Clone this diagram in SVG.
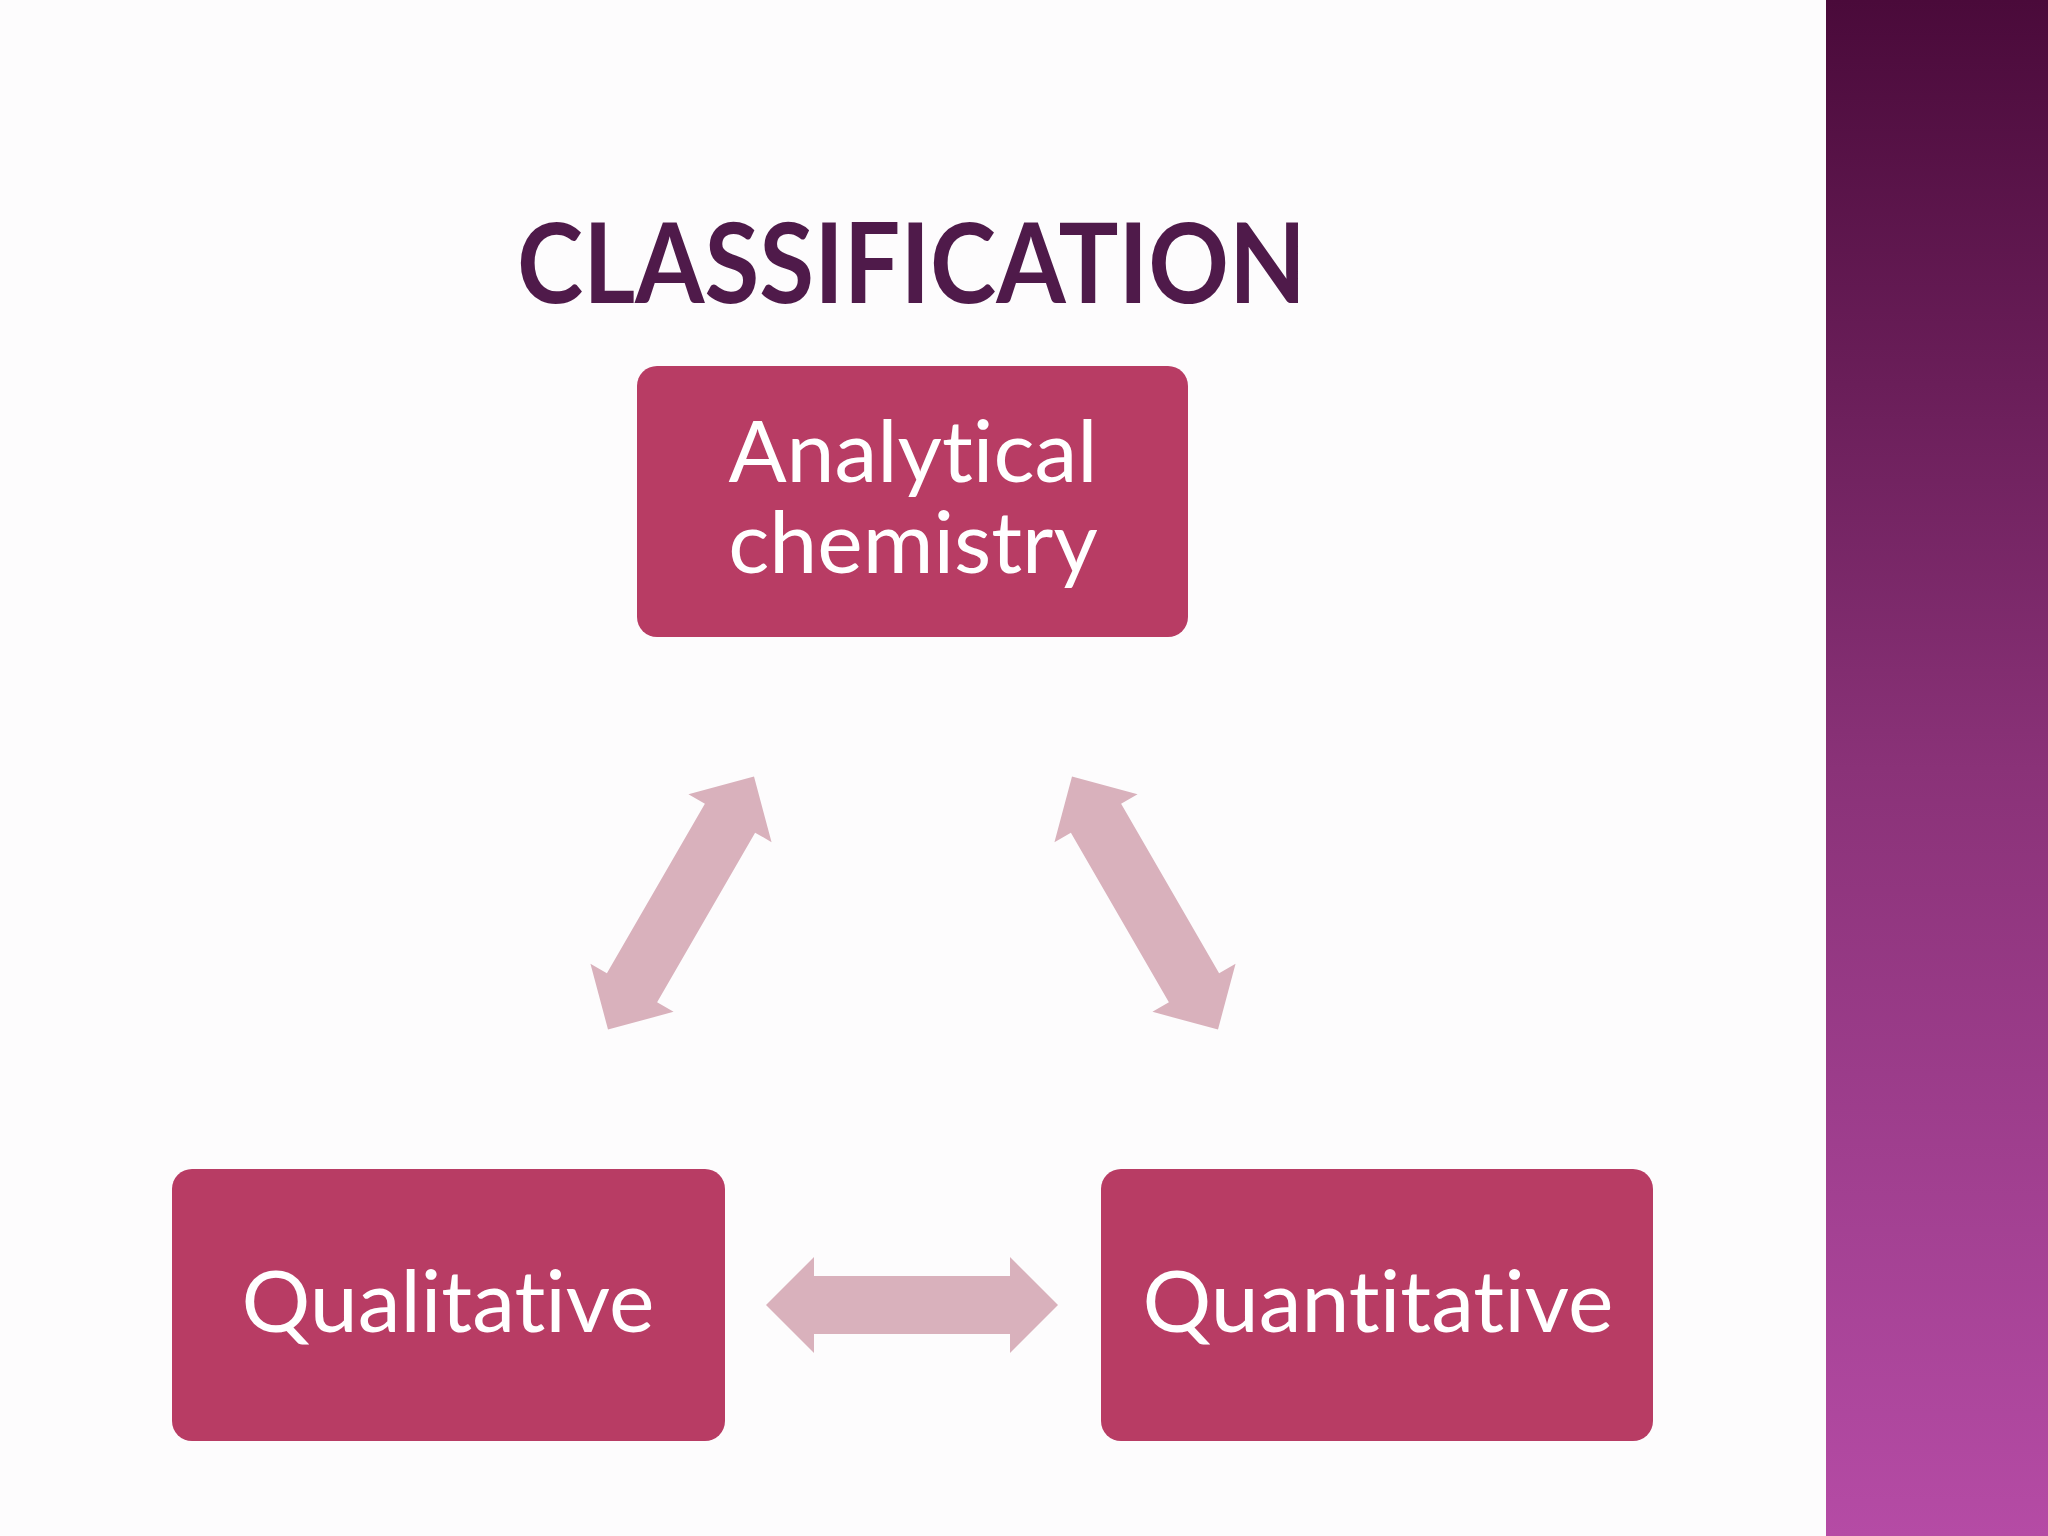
<svg xmlns="http://www.w3.org/2000/svg" xmlns:xlink="http://www.w3.org/1999/xlink" width="2048" height="1536" viewBox="0 0 2048 1536">
<style>
.box{fill:#b83c64}
.lbl{fill:#fff;font-family:Lato,"Open Sans",sans-serif;font-size:86px;text-anchor:middle;font-variant-ligatures:none}
.arr{fill:#d9b1bc}
</style>
<defs>
<linearGradient id="bar" x1="0" y1="0" x2="0" y2="1">
<stop offset="0" stop-color="#4a0a3a"/>
<stop offset="0.5" stop-color="#8a3278"/>
<stop offset="1" stop-color="#b54ba5"/>
</linearGradient>
<polygon id="dbl" class="arr" points="-146,0 -98,-48 -98,-29 98,-29 98,-48 146,0 98,48 98,29 -98,29 -98,48"/>
</defs>
<rect width="2048" height="1536" fill="#fdfcfd"/>
<rect x="1826" y="0" width="222" height="1536" fill="url(#bar)"/>
<text x="517" y="303" font-family="Lato,'Open Sans',sans-serif" font-weight="bold" font-size="112" fill="#4f1a4a" textLength="789" lengthAdjust="spacingAndGlyphs">CLASSIFICATION</text>
<g id="connectors">
<use xlink:href="#dbl" transform="translate(912,1305)"/>
<use xlink:href="#dbl" transform="translate(681,903) rotate(-60)"/>
<use xlink:href="#dbl" transform="translate(1145,903) rotate(60)"/>
</g>
<g id="analytical">
<rect class="box" x="637" y="366" width="551" height="271" rx="20"/>
<text class="lbl" x="913" y="482">Analytical</text>
<text class="lbl" x="913" y="573">chemistry</text>
</g>
<g id="qualitative">
<rect class="box" x="172" y="1169" width="553" height="272" rx="20"/>
<text class="lbl" x="448" y="1332">Qualitative</text>
</g>
<g id="quantitative">
<rect class="box" x="1101" y="1169" width="552" height="272" rx="20"/>
<text class="lbl" x="1378" y="1332">Quantitative</text>
</g>
</svg>
